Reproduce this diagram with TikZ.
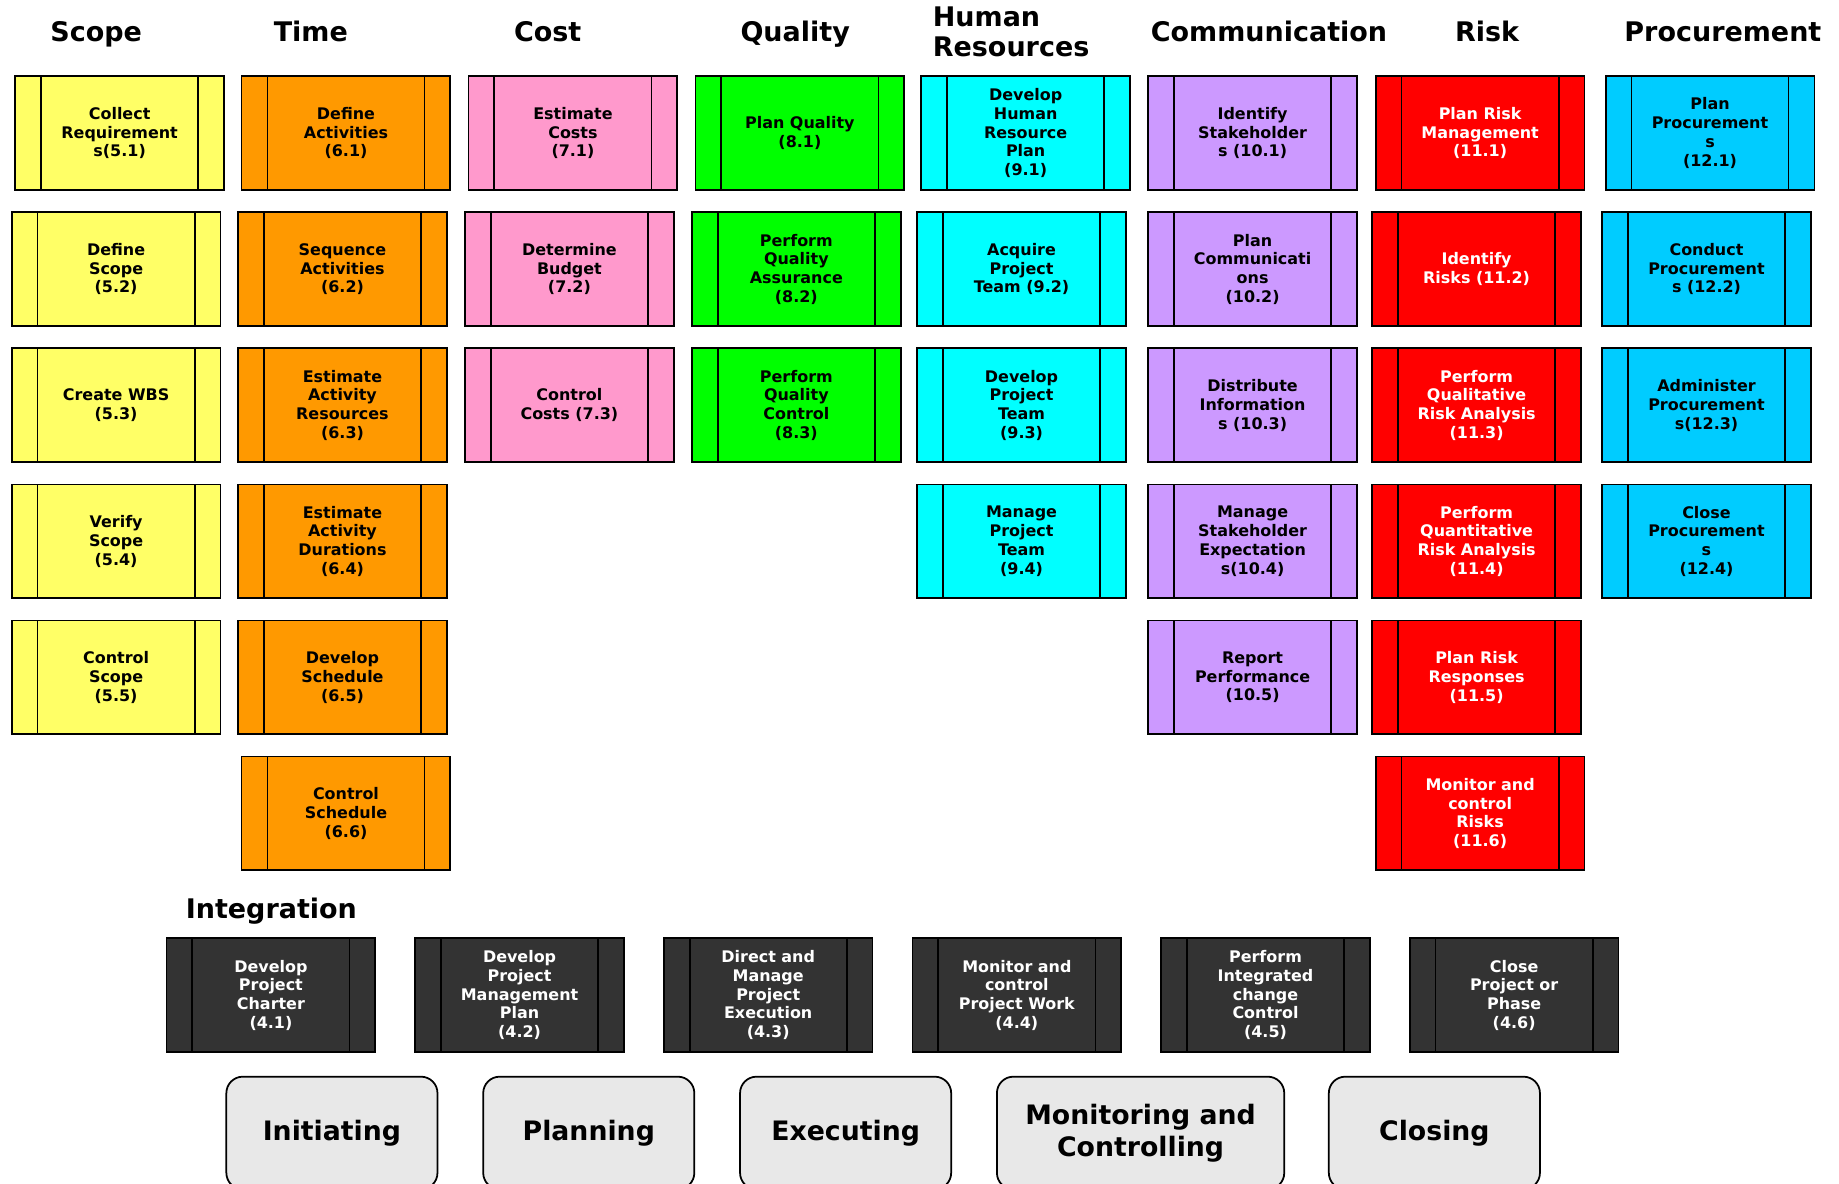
\documentclass[tikz,border=0pt]{standalone}
\usepackage{fontspec}
\setmainfont{DejaVu Sans}
\usetikzlibrary{positioning}
\definecolor{scopecol}{HTML}{FFFF66}
\definecolor{timecol}{HTML}{FF9900}
\definecolor{costcol}{HTML}{FF99CC}
\definecolor{qualcol}{HTML}{00FF00}
\definecolor{hrcol}{HTML}{00FFFF}
\definecolor{commcol}{HTML}{CC99FF}
\definecolor{riskcol}{HTML}{FF0000}
\definecolor{proccol}{HTML}{00CCFF}
\definecolor{integcol}{HTML}{333333}
\definecolor{phasecol}{HTML}{E8E8E8}

\begin{document}
\begin{tikzpicture}[x=0.5pt,y=-0.5pt,
 proc/.style={draw=black, line width=0.75pt, minimum width=89pt, minimum height=48.5pt, inner sep=0pt, align=center,
  font=\fontsize{6.8}{8}\selectfont\bfseries,
  path picture={
   \draw[line width=0.75pt] ([xshift=11pt]path picture bounding box.north west) -- ([xshift=11pt]path picture bounding box.south west);
   \draw[line width=0.75pt] ([xshift=-11pt]path picture bounding box.north east) -- ([xshift=-11pt]path picture bounding box.south east);}},
 hdr/.style={inner sep=0pt, font=\fontsize{11.5}{13}\selectfont\bfseries},
 phase/.style={draw=black, line width=0.75pt, fill=phasecol, rounded corners=7pt, minimum width=90pt, minimum height=48pt,
  align=center, font=\fontsize{11.4}{13.5}\selectfont\bfseries}]

\path[use as bounding box] (0,0) rectangle (1568,1009);
\clip (0,0) rectangle (1568,1009);

\node (hscope) at (82,35.5) [hdr, anchor=base] {Scope};
\node (htime) at (265,35.5) [hdr, anchor=base] {Time};
\node (hcost) at (467,35.5) [hdr, anchor=base] {Cost};
\node (hqual) at (678,35.5) [hdr, anchor=base] {Quality};
\node (hhr) at (795,5) [hdr, anchor=north west, align=left] {Human\\Resources};
\node (hcomm) at (1082,35.5) [hdr, anchor=base] {Communication};
\node (hrisk) at (1268,35.5) [hdr, anchor=base] {Risk};
\node (hproc) at (1469,35.5) [hdr, anchor=base] {Procurement};

\begin{scope}
\node (scope1) at (102,113.5) [proc, fill=scopecol] {Collect\\Requirement\\s(5.1)};
\node (scope2) at (99,229.5) [proc, fill=scopecol] {Define\\Scope\\(5.2)};
\node (scope3) at (99,345.5) [proc, fill=scopecol] {Create WBS\\(5.3)};
\node (scope4) at (99,461.5) [proc, fill=scopecol] {Verify\\Scope\\(5.4)};
\node (scope5) at (99,577.5) [proc, fill=scopecol] {Control\\Scope\\(5.5)};
\end{scope}

\begin{scope}
\node (time1) at (295,113.5) [proc, fill=timecol] {Define\\Activities\\(6.1)};
\node (time2) at (292,229.5) [proc, fill=timecol] {Sequence\\Activities\\(6.2)};
\node (time3) at (292,345.5) [proc, fill=timecol] {Estimate\\Activity\\Resources\\(6.3)};
\node (time4) at (292,461.5) [proc, fill=timecol] {Estimate\\Activity\\Durations\\(6.4)};
\node (time5) at (292,577.5) [proc, fill=timecol] {Develop\\Schedule\\(6.5)};
\node (time6) at (295,693.5) [proc, fill=timecol] {Control\\Schedule\\(6.6)};
\end{scope}

\begin{scope}
\node (cost1) at (488.5,113.5) [proc, fill=costcol] {Estimate\\Costs\\(7.1)};
\node (cost2) at (485.5,229.5) [proc, fill=costcol] {Determine\\Budget\\(7.2)};
\node (cost3) at (485.5,345.5) [proc, fill=costcol] {Control\\Costs (7.3)};
\end{scope}

\begin{scope}
\node (qual1) at (682,113.5) [proc, fill=qualcol] {Plan Quality\\(8.1)};
\node (qual2) at (679,229.5) [proc, fill=qualcol] {Perform\\Quality\\Assurance\\(8.2)};
\node (qual3) at (679,345.5) [proc, fill=qualcol] {Perform\\Quality\\Control\\(8.3)};
\end{scope}

\begin{scope}
\node (hr1) at (874.5,113.5) [proc, fill=hrcol] {Develop\\Human\\Resource\\Plan\\(9.1)};
\node (hr2) at (871,229.5) [proc, fill=hrcol] {Acquire\\Project\\Team (9.2)};
\node (hr3) at (871,345.5) [proc, fill=hrcol] {Develop\\Project\\Team\\(9.3)};
\node (hr4) at (871,461.5) [proc, fill=hrcol] {Manage\\Project\\Team\\(9.4)};
\end{scope}

\begin{scope}
\node (comm1) at (1068,113.5) [proc, fill=commcol] {Identify\\Stakeholder\\s (10.1)};
\node (comm2) at (1068,229.5) [proc, fill=commcol] {Plan\\Communicati\\ons\\(10.2)};
\node (comm3) at (1068,345.5) [proc, fill=commcol] {Distribute\\Information\\s (10.3)};
\node (comm4) at (1068,461.5) [proc, fill=commcol] {Manage\\Stakeholder\\Expectation\\s(10.4)};
\node (comm5) at (1068,577.5) [proc, fill=commcol] {Report\\Performance\\(10.5)};
\end{scope}

\begin{scope}[every node/.append style={text=white}]
\node (risk1) at (1262,113.5) [proc, fill=riskcol] {Plan Risk\\Management\\(11.1)};
\node (risk2) at (1259,229.5) [proc, fill=riskcol] {Identify\\Risks (11.2)};
\node (risk3) at (1259,345.5) [proc, fill=riskcol] {Perform\\Qualitative\\Risk Analysis\\(11.3)};
\node (risk4) at (1259,461.5) [proc, fill=riskcol] {Perform\\Quantitative\\Risk Analysis\\(11.4)};
\node (risk5) at (1259,577.5) [proc, fill=riskcol] {Plan Risk\\Responses\\(11.5)};
\node (risk6) at (1262,693.5) [proc, fill=riskcol] {Monitor and\\control\\Risks\\(11.6)};
\end{scope}

\begin{scope}
\node (proc1) at (1458,113.5) [proc, fill=proccol] {Plan\\Procurement\\s\\(12.1)};
\node (proc2) at (1455,229.5) [proc, fill=proccol] {Conduct\\Procurement\\s (12.2)};
\node (proc3) at (1455,345.5) [proc, fill=proccol] {Administer\\Procurement\\s(12.3)};
\node (proc4) at (1455,461.5) [proc, fill=proccol] {Close\\Procurement\\s\\(12.4)};
\end{scope}

\node (hinteg) at (158,783) [hdr, anchor=base west] {Integration};

\begin{scope}[every node/.append style={text=white}]
\node (integ1) at (231,848.5) [proc, fill=integcol] {Develop\\Project\\Charter\\(4.1)};
\node (integ2) at (443,848.5) [proc, fill=integcol] {Develop\\Project\\Management\\Plan\\(4.2)};
\node (integ3) at (655,848.5) [proc, fill=integcol] {Direct and\\Manage\\Project\\Execution\\(4.3)};
\node (integ4) at (867,848.5) [proc, fill=integcol] {Monitor and\\control\\Project Work\\(4.4)};
\node (integ5) at (1079,848.5) [proc, fill=integcol] {Perform\\Integrated\\change\\Control\\(4.5)};
\node (integ6) at (1291,848.5) [proc, fill=integcol] {Close\\Project or\\Phase\\(4.6)};
\end{scope}

\node (init) at (283,966) [phase] {Initiating};
\node (plan) at (502,966) [phase] {Planning};
\node (exec) at (721,966) [phase] {Executing};
\node (moni) at (972.5,966) [phase, minimum width=122.5pt] {Monitoring and\\Controlling};
\node (clos) at (1223,966) [phase] {Closing};

\end{tikzpicture}
\end{document}
